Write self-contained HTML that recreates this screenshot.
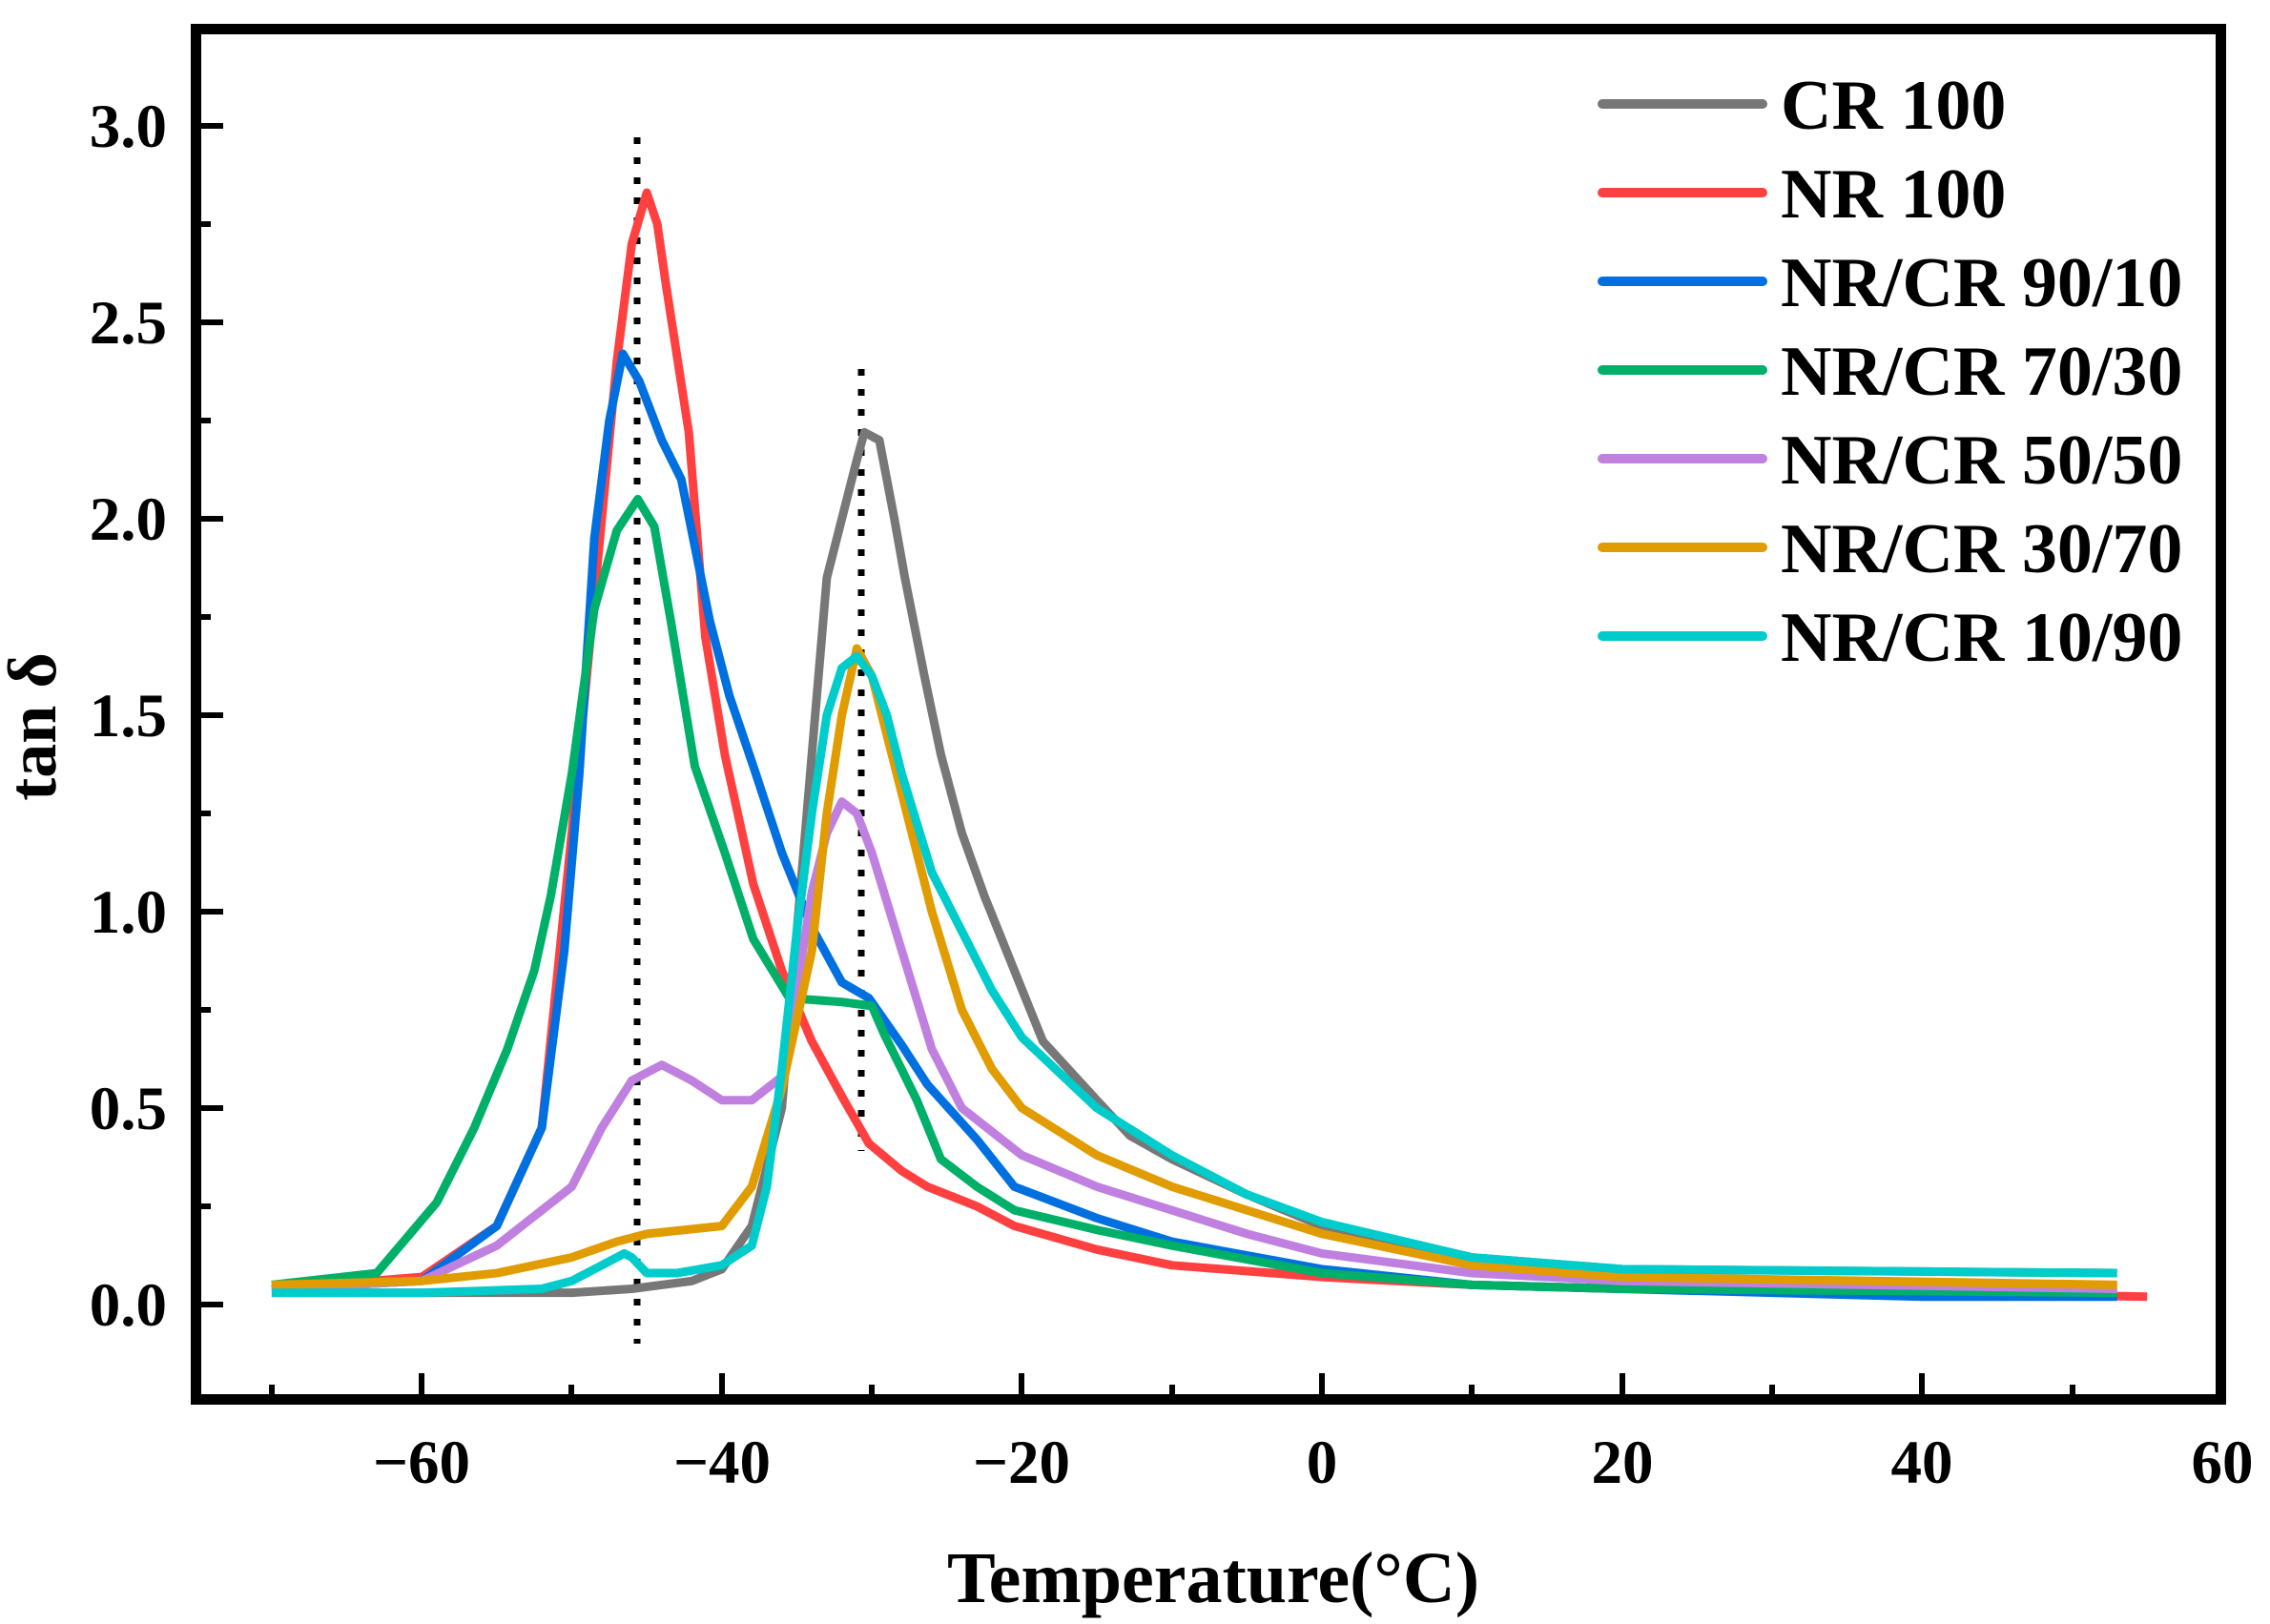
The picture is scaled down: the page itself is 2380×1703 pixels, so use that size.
<!DOCTYPE html>
<html><head><meta charset="utf-8"><style>
html,body{margin:0;padding:0;background:#fff;}
svg{display:block;}
text{font-family:"Liberation Serif",serif;font-weight:bold;fill:#000;}
</style></head><body>
<svg width="2380" height="1703" viewBox="0 0 2380 1703" xmlns="http://www.w3.org/2000/svg">
<line x1="668" y1="144" x2="668" y2="1409" stroke="#000" stroke-width="7" stroke-dasharray="7,14"/>
<line x1="903" y1="387" x2="903" y2="1207" stroke="#000" stroke-width="7" stroke-dasharray="7,14"/>
<g transform="matrix(15.73,0,0,-412,1386,1368)" fill="none" stroke-width="9" stroke-linejoin="round">
<polyline vector-effect="non-scaling-stroke" stroke="#777777" points="-70,0.03 -50,0.03 -46,0.04 -42,0.06 -40,0.09 -38,0.2 -36,0.5 -35,0.95 -34,1.4 -33,1.85 -32,2.0 -31,2.15 -30.5,2.22 -29.5,2.2 -28.5,2.0 -27.8,1.85 -26.5,1.6 -25.4,1.4 -24,1.2 -22.5,1.04 -20.5,0.85 -18.6,0.67 -15,0.52 -12.8,0.43 -10,0.37 -5,0.28 0,0.2 10,0.12 20,0.09 53,0.08"/>
<polyline vector-effect="non-scaling-stroke" stroke="#ff4040" points="-70,0.04 -60,0.07 -55,0.2 -52,0.45 -50,1.2 -49,1.6 -48,2.0 -47,2.4 -46,2.7 -45,2.83 -44.3,2.75 -43.7,2.59 -42.2,2.22 -41.1,1.7 -39.8,1.4 -37.9,1.07 -36,0.85 -34,0.67 -32,0.53 -30.2,0.41 -28,0.34 -26.3,0.3 -23,0.25 -20.5,0.2 -15,0.14 -10,0.1 0,0.07 10,0.05 20,0.04 40,0.03 55,0.02"/>
<polyline vector-effect="non-scaling-stroke" stroke="#0070e0" points="-70,0.04 -60,0.06 -55,0.2 -52,0.45 -50.5,0.9 -49.5,1.35 -48.5,1.95 -47.5,2.25 -46.6,2.42 -45.5,2.35 -44,2.2 -42.7,2.1 -40.8,1.74 -39.5,1.55 -37.9,1.37 -36,1.15 -34,0.96 -32,0.82 -30.2,0.78 -28,0.66 -26.3,0.56 -23,0.42 -20.5,0.3 -15,0.22 -10,0.16 0,0.09 10,0.05 20,0.04 40,0.02 53,0.02"/>
<polyline vector-effect="non-scaling-stroke" stroke="#00b068" points="-70,0.05 -63,0.08 -59,0.26 -56.5,0.45 -54.3,0.65 -52.5,0.85 -51.4,1.04 -50,1.35 -48.5,1.77 -47,1.97 -45.6,2.05 -44.5,1.98 -43.4,1.74 -41.8,1.37 -39.8,1.15 -37.9,0.93 -35.5,0.78 -32,0.77 -30,0.76 -29.2,0.69 -27,0.52 -25.4,0.37 -23,0.3 -20.5,0.24 -15,0.19 -10,0.15 0,0.08 10,0.05 20,0.04 53,0.03"/>
<polyline vector-effect="non-scaling-stroke" stroke="#c080e0" points="-70,0.04 -60,0.06 -55,0.15 -50,0.3 -48,0.45 -46,0.57 -44,0.61 -42,0.57 -40,0.52 -38,0.52 -36,0.58 -35,0.8 -34,1.05 -33,1.2 -32,1.28 -31,1.25 -30,1.15 -28,0.9 -26,0.65 -24,0.5 -20,0.38 -15,0.3 -10,0.24 -5,0.18 0,0.13 10,0.08 20,0.06 53,0.04"/>
<polyline vector-effect="non-scaling-stroke" stroke="#e09c00" points="-70,0.05 -60,0.06 -55,0.08 -50,0.12 -47,0.16 -45,0.18 -40,0.2 -38,0.3 -36,0.55 -34,0.9 -33,1.25 -32,1.5 -31,1.67 -30,1.6 -29,1.45 -28,1.3 -26,1.0 -24,0.75 -22,0.6 -20,0.5 -15,0.38 -10,0.3 -5,0.24 0,0.18 10,0.1 20,0.07 53,0.05"/>
<polyline vector-effect="non-scaling-stroke" stroke="#00cccc" points="-70,0.03 -60,0.03 -52,0.04 -50,0.06 -48,0.1 -46.5,0.13 -46,0.12 -45,0.08 -43,0.08 -40,0.1 -38,0.15 -37,0.3 -36,0.6 -35,0.95 -34,1.25 -33,1.5 -32,1.62 -31,1.65 -30,1.6 -29,1.5 -28,1.35 -26,1.1 -24,0.95 -22,0.8 -20,0.68 -15,0.5 -10,0.38 -5,0.28 0,0.21 10,0.12 20,0.09 53,0.08"/>
</g>
<rect x="205.5" y="30.5" width="2123" height="1437" fill="none" stroke="#000" stroke-width="11"/>
<g stroke="#000" stroke-width="6">
<line x1="211" y1="1368" x2="234" y2="1368"/><line x1="211" y1="1162" x2="234" y2="1162"/>
<line x1="211" y1="956" x2="234" y2="956"/><line x1="211" y1="750" x2="234" y2="750"/>
<line x1="211" y1="544" x2="234" y2="544"/><line x1="211" y1="338" x2="234" y2="338"/>
<line x1="211" y1="132" x2="234" y2="132"/>
<line x1="211" y1="1265" x2="221" y2="1265"/><line x1="211" y1="1059" x2="221" y2="1059"/>
<line x1="211" y1="853" x2="221" y2="853"/><line x1="211" y1="647" x2="221" y2="647"/>
<line x1="211" y1="441" x2="221" y2="441"/><line x1="211" y1="235" x2="221" y2="235"/>
<line x1="442" y1="1462" x2="442" y2="1440"/><line x1="757" y1="1462" x2="757" y2="1440"/>
<line x1="1071" y1="1462" x2="1071" y2="1440"/><line x1="1386" y1="1462" x2="1386" y2="1440"/>
<line x1="1701" y1="1462" x2="1701" y2="1440"/><line x1="2015" y1="1462" x2="2015" y2="1440"/>
<line x1="285" y1="1462" x2="285" y2="1452"/><line x1="599" y1="1462" x2="599" y2="1452"/>
<line x1="914" y1="1462" x2="914" y2="1452"/><line x1="1229" y1="1462" x2="1229" y2="1452"/>
<line x1="1543" y1="1462" x2="1543" y2="1452"/><line x1="1858" y1="1462" x2="1858" y2="1452"/>
<line x1="2173" y1="1462" x2="2173" y2="1452"/>
</g>
<g font-size="65" text-anchor="end">
<text x="175" y="1390">0.0</text><text x="175" y="1184">0.5</text>
<text x="175" y="978">1.0</text><text x="175" y="772">1.5</text>
<text x="175" y="566">2.0</text><text x="175" y="360">2.5</text>
<text x="175" y="154">3.0</text>
</g>
<g font-size="65" text-anchor="middle">
<text x="442" y="1555">−60</text><text x="757" y="1555">−40</text>
<text x="1071" y="1555">−20</text><text x="1386" y="1555">0</text>
<text x="1701" y="1555">20</text><text x="2015" y="1555">40</text>
<text x="2330" y="1555">60</text>
</g>
<text x="1272" y="1680" font-size="76" text-anchor="middle">Temperature(°C)</text>
<text transform="translate(58,762) rotate(-90)" font-size="72" text-anchor="middle">tan δ</text>
<g stroke-width="10" stroke-linecap="round">
<line x1="1680" y1="109" x2="1848" y2="109" stroke="#777777"/>
<line x1="1680" y1="202" x2="1848" y2="202" stroke="#ff4040"/>
<line x1="1680" y1="295" x2="1848" y2="295" stroke="#0070e0"/>
<line x1="1680" y1="388" x2="1848" y2="388" stroke="#00b068"/>
<line x1="1680" y1="481" x2="1848" y2="481" stroke="#c080e0"/>
<line x1="1680" y1="574" x2="1848" y2="574" stroke="#e09c00"/>
<line x1="1680" y1="667" x2="1848" y2="667" stroke="#00cccc"/>
</g>
<g font-size="74">
<text x="1867" y="135">CR 100</text>
<text x="1867" y="228">NR 100</text>
<text x="1867" y="321">NR/CR 90/10</text>
<text x="1867" y="414">NR/CR 70/30</text>
<text x="1867" y="507">NR/CR 50/50</text>
<text x="1867" y="600">NR/CR 30/70</text>
<text x="1867" y="693">NR/CR 10/90</text>
</g>
</svg>
</body></html>
